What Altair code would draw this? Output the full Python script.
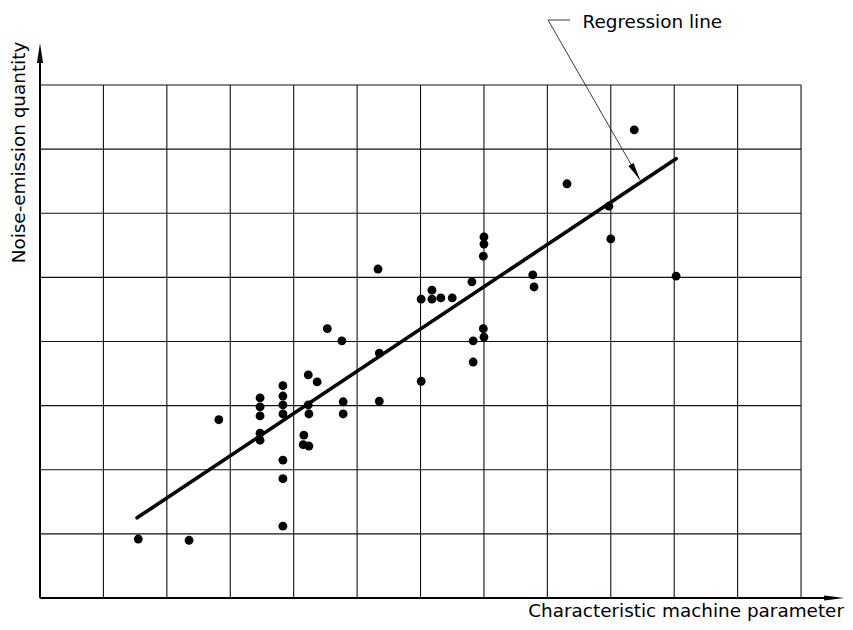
import altair as alt
import pandas as pd

# ---- data (grid units: one unit = one grid cell) ----
x_vals = [1.55, 2.35, 2.82, 3.47, 3.47, 3.47, 3.47, 3.47, 3.83, 3.83, 3.83, 3.83, 3.83, 3.83, 3.83,
          4.23, 4.37, 4.23, 4.24, 4.16, 4.15, 4.24, 4.53, 4.76, 4.78, 4.78, 5.33, 5.35, 5.35,
          6.01, 6.01, 6.18, 6.18, 6.32, 6.50, 6.81, 7.00, 7.00, 6.99, 6.99, 7.00, 6.83, 6.83,
          7.77, 7.79, 8.31, 8.97, 9.00, 9.37, 10.03]
y_vals = [0.92, 0.90, 2.78, 3.12, 2.98, 2.84, 2.57, 2.46, 3.31, 3.15, 3.01, 2.87, 2.15, 1.86, 1.12,
          3.48, 3.37, 3.01, 2.87, 2.54, 2.39, 2.37, 4.20, 4.01, 3.06, 2.87, 5.13, 3.82, 3.07,
          3.38, 4.66, 4.80, 4.66, 4.68, 4.68, 4.93, 5.63, 5.52, 5.33, 4.20, 4.07, 4.01, 3.68,
          5.04, 4.85, 6.46, 6.11, 5.60, 7.30, 5.02]

line_x = [1.53, 10.03]
line_y = [1.25, 6.85]

grid_x = list(range(1, 13))   # vertical grid lines
grid_y = list(range(1, 9))    # horizontal grid lines
grid_x_max = 12
grid_y_max = 8

x_axis_end = 12.68
y_axis_end = 8.655

x_title = "Characteristic machine parameter"
y_title = "Noise-emission quantity"
annot_text = "Regression line"

# annotation geometry (grid units)
annot_label_pos = (8.554, 8.889)
leader_h = (8.01, 8.357, 9.014)
leader_diag = (8.01, 9.014, 9.461, 6.519)

# ---- scales ----
xs = alt.Scale(domain=[-0.5046, 12.693], nice=False, zero=False)
ys = alt.Scale(domain=[-0.3743, 9.2008], nice=False, zero=False)

def X(f):
    return alt.X(f, type="quantitative", scale=xs, axis=None)

def Y(f):
    return alt.Y(f, type="quantitative", scale=ys, axis=None)

ink = "#111111"

vgrid = alt.Chart(pd.DataFrame({"x": grid_x, "y0": [0] * len(grid_x), "y1": [grid_y_max] * len(grid_x)})).mark_rule(
    color=ink, strokeWidth=1.1).encode(x=X("x"), y=Y("y0"), y2="y1")

hgrid = alt.Chart(pd.DataFrame({"y": grid_y, "x0": [0] * len(grid_y), "x1": [grid_x_max] * len(grid_y)})).mark_rule(
    color=ink, strokeWidth=1.1).encode(y=Y("y"), x=X("x0"), x2="x1")

yaxis = alt.Chart(pd.DataFrame({"x": [0], "y0": [0], "y1": [y_axis_end - 0.2]})).mark_rule(
    color="black", strokeWidth=2).encode(x=X("x"), y=Y("y0"), y2="y1")
xaxis = alt.Chart(pd.DataFrame({"y": [0], "x0": [0], "x1": [x_axis_end - 0.2]})).mark_rule(
    color="black", strokeWidth=2.2).encode(y=Y("y"), x=X("x0"), x2="x1")

up_arrow = alt.Chart(pd.DataFrame({"x": [0], "y": [y_axis_end]})).mark_point(
    shape="M0,0 L0.3,2 L-0.3,2 Z", size=400, filled=True, color="black", opacity=1, strokeWidth=0
).encode(x=X("x"), y=Y("y"))

right_arrow = alt.Chart(pd.DataFrame({"x": [x_axis_end], "y": [0]})).mark_point(
    shape="M0,0 L-2,-0.25 L-2,0.25 Z", size=400, filled=True, color="black", opacity=1, strokeWidth=0
).encode(x=X("x"), y=Y("y"))

points = alt.Chart(pd.DataFrame({"x": x_vals, "y": y_vals})).mark_circle(
    size=78, color="black", opacity=1).encode(x=X("x"), y=Y("y"))

reg = alt.Chart(pd.DataFrame({"x": line_x, "y": line_y})).mark_line(
    color="black", strokeWidth=3.6, strokeCap="round").encode(x=X("x"), y=Y("y"))

lead_h = alt.Chart(pd.DataFrame({"x0": [leader_h[0]], "x1": [leader_h[1]], "y": [leader_h[2]]})).mark_rule(
    color="#222222", strokeWidth=0.9).encode(x=X("x0"), x2="x1", y=Y("y"))

lead_d = alt.Chart(pd.DataFrame({"x0": [leader_diag[0]], "y0": [leader_diag[1]],
                                 "x1": [leader_diag[2]], "y1": [leader_diag[3]]})).mark_rule(
    color="#222222", strokeWidth=0.9).encode(x=X("x0"), y=Y("y0"), x2="x1", y2="y1")

lead_arrow = alt.Chart(pd.DataFrame({"x": [leader_diag[2]], "y": [leader_diag[3]]})).mark_point(
    shape="M0,0 L0.25,-1.5 L-0.25,-1.5 Z", size=576, angle=330, filled=True, color="black",
    opacity=1, strokeWidth=0).encode(x=X("x"), y=Y("y"))

font = "DejaVu Sans"
fs = 18.4

annot = alt.Chart(pd.DataFrame({"x": [annot_label_pos[0]], "y": [annot_label_pos[1]], "t": [annot_text]})).mark_text(
    font=font, fontSize=fs, align="left", baseline="alphabetic", color="black").encode(
    x=X("x"), y=Y("y"), text="t:N")

xt = alt.Chart(pd.DataFrame({"x": [12.677], "y": [-0.296], "t": [x_title]})).mark_text(
    font=font, fontSize=fs, align="right", baseline="alphabetic", color="black").encode(
    x=X("x"), y=Y("y"), text="t:N")

yt = alt.Chart(pd.DataFrame({"x": [-0.2365], "y": [6.947], "t": [y_title]})).mark_text(
    font=font, fontSize=fs, align="center", baseline="alphabetic", angle=270, color="black").encode(
    x=X("x"), y=Y("y"), text="t:N")

chart = alt.layer(
    vgrid, hgrid, yaxis, xaxis, up_arrow, right_arrow, reg, points,
    lead_h, lead_d, lead_arrow, annot, xt, yt
).properties(
    width=837, height=614, padding=0,
    autosize=alt.AutoSizeParams(type="none"),
    background="white",
).configure_view(stroke=None)

chart.save("out.html", embed_options={"renderer": "svg", "actions": False})
